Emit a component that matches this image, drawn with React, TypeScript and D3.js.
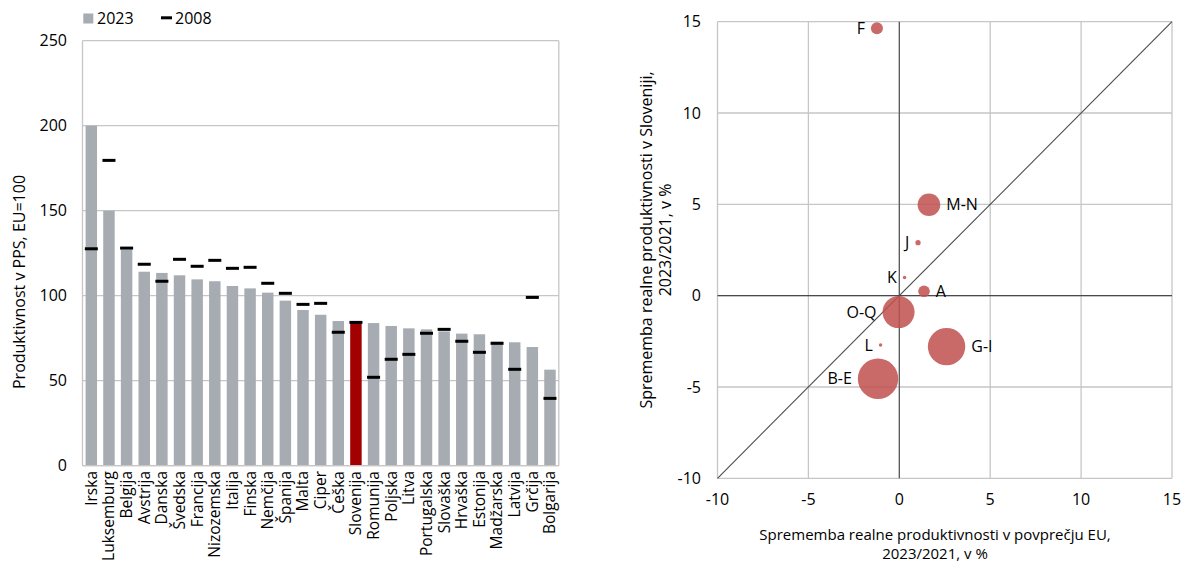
import React from "react";
import * as d3 from "d3";

// ---------- Left chart data ----------
const countries = [
  "Irska", "Luksemburg", "Belgija", "Avstrija", "Danska", "Švedska", "Francija",
  "Nizozemska", "Italija", "Finska", "Nemčija", "Španija", "Malta", "Ciper", "Češka",
  "Slovenija", "Romunija", "Poljska", "Litva", "Portugalska", "Slovaška", "Hrvaška",
  "Estonija", "Madžarska", "Latvija", "Grčija", "Bolgarija",
];
const values2023 = [
  200, 150, 127, 114.1, 113.4, 112, 109.6, 108.5, 105.7, 104.3, 101.8, 97.1, 91.6, 88.8,
  85.1, 84, 83.9, 82.2, 80.8, 80.2, 79, 77.7, 77.3, 73, 72.6, 69.8, 56.5,
];
const values2008 = [
  127.6, 179.6, 128, 118.5, 108.5, 121.4, 117.3, 120.8, 116.1, 116.7, 107.3, 101.4, 94.9,
  95.5, 78.5, 84.3, 52, 62.6, 65.5, 77.9, 80.2, 73.2, 66.7, 72, 56.7, 99, 39.6,
];
const highlight = "Slovenija";
const leftTicks = [0, 50, 100, 150, 200, 250];

// ---------- Right chart data ----------
const sectors = ["F", "M-N", "J", "K", "A", "O-Q", "L", "G-I", "B-E"];
const euChange = [-1.23, 1.63, 1.03, 0.29, 1.36, -0.04, -1.03, 2.6, -1.17];
const siChange = [14.64, 4.98, 2.9, 0.99, 0.24, -0.9, -2.7, -2.79, -4.55];
const sectorWeight = [3.6, 12.8, 0.7, 0.3, 3.4, 25.6, 0.3, 35, 40.8];
const labelSide = ["l", "r", "l", "l", "r", "l", "l", "r", "l"];
const rightTicks = [-10, -5, 0, 5, 10, 15];

const FONT = "'Open Sans', 'Noto Sans', sans-serif";
const GRID = "#C6C6C6";
const AXIS = "#4A4A4A";
const BAR = "#A6ACB1";
const RED = "#A30000";
const BUBBLE = "#C0504D";

export default function App() {
  // Left chart scales
  const x = d3.scaleBand<string>().domain(countries).range([82.5, 558.8]).paddingInner(0.35).paddingOuter(0.175);
  const y = d3.scaleLinear().domain([0, 250]).range([465.7, 40.7]);
  const markerW = 13;

  // Right chart scales
  const sx = d3.scaleLinear().domain([-10, 15]).range([717.5, 1172]);
  const sy = d3.scaleLinear().domain([-10, 15]).range([478.3, 21.7]);
  const r = d3.scaleSqrt().domain([0, d3.max(sectorWeight) as number]).range([0, 20.2]);

  const diag = d3.line<number>().x((d) => sx(d)).y((d) => sy(d));

  return (
    <div>
      <style>{`body{margin:0}`}</style>
      <svg width={1182} height={564} style={{ display: "block", fontFamily: FONT }}>
        <rect width={1182} height={564} fill="#fff" />

        {/* ===== Left chart ===== */}
        {/* legend */}
        <rect x={83.3} y={13.5} width={10} height={10} fill={BAR} />
        <text x={97} y={24} fontSize={16} fill="#000">2023</text>
        <rect x={161} y={16.3} width={11} height={3} fill="#000" />
        <text x={175} y={24} fontSize={16} fill="#000">2008</text>

        {/* gridlines */}
        {leftTicks.map((t) => (
          <line key={"lg" + t} x1={82.5} x2={558.8} y1={y(t)} y2={y(t)} stroke={GRID} strokeWidth={1.3} />
        ))}
        <line x1={82.5} x2={82.5} y1={y(250)} y2={y(0)} stroke={GRID} strokeWidth={1.3} />
        <line x1={558.8} x2={558.8} y1={y(250)} y2={y(0)} stroke={GRID} strokeWidth={1.3} />

        {/* tick labels */}
        {leftTicks.map((t) => (
          <text key={"lt" + t} x={67} y={y(t)} dy="0.35em" textAnchor="end" fontSize={16} fill="#000">
            {t}
          </text>
        ))}

        {/* bars */}
        {countries.map((c, i) => (
          <rect
            key={"b" + c}
            x={x(c)}
            y={y(values2023[i])}
            width={x.bandwidth()}
            height={y(0) - y(values2023[i])}
            fill={c === highlight ? RED : BAR}
          />
        ))}
        {/* 2008 markers */}
        {countries.map((c, i) => (
          <rect
            key={"m" + c}
            x={(x(c) as number) + x.bandwidth() / 2 - markerW / 2}
            y={y(values2008[i]) - 1.5}
            width={markerW}
            height={3}
            fill="#000"
          />
        ))}
        <line x1={82.5} x2={558.8} y1={y(0)} y2={y(0)} stroke={GRID} strokeWidth={1.3} />

        {/* category labels */}
        {countries.map((c) => {
          const cx = (x(c) as number) + x.bandwidth() / 2;
          return (
            <text
              key={"cl" + c}
              transform={`translate(${cx},471) rotate(-90)`}
              dy="0.35em"
              textAnchor="end"
              fontSize={15.5}
              fill="#000"
            >
              {c}
            </text>
          );
        })}

        {/* y title */}
        <text transform="translate(19,282) rotate(-90)" dy="0.35em" textAnchor="middle" fontSize={16} fill="#000">
          Produktivnost v PPS, EU=100
        </text>

        {/* ===== Right chart ===== */}
        {rightTicks.map((t) => (
          <g key={"rg" + t}>
            <line x1={sx(t)} x2={sx(t)} y1={sy(15)} y2={sy(-10)} stroke={GRID} strokeWidth={1.3} />
            <line x1={sx(-10)} x2={sx(15)} y1={sy(t)} y2={sy(t)} stroke={GRID} strokeWidth={1.3} />
          </g>
        ))}
        <line x1={sx(0)} x2={sx(0)} y1={sy(15)} y2={sy(-10)} stroke={AXIS} strokeWidth={1.1} />
        <line x1={sx(-10)} x2={sx(15)} y1={sy(0)} y2={sy(0)} stroke={AXIS} strokeWidth={1.1} />
        <path d={diag([-10, 15]) as string} stroke={AXIS} strokeWidth={1.1} fill="none" />

        {/* bubbles */}
        {sectors.map((s, i) => (
          <circle
            key={"c" + s}
            cx={sx(euChange[i])}
            cy={sy(siChange[i])}
            r={Math.max(r(sectorWeight[i]), 1.7)}
            fill={BUBBLE}
            fillOpacity={0.85}
          />
        ))}
        {sectors.map((s, i) => {
          const rr = Math.max(r(sectorWeight[i]), 1.7);
          const left = labelSide[i] === "l";
          return (
            <text
              key={"sl" + s}
              x={sx(euChange[i]) + (left ? -(rr + 6) : rr + 6)}
              y={sy(siChange[i])}
              dy="0.35em"
              textAnchor={left ? "end" : "start"}
              fontSize={16}
              fill="#000"
            >
              {s}
            </text>
          );
        })}

        {/* tick labels */}
        {rightTicks.map((t) => (
          <text key={"ry" + t} x={701} y={sy(t)} dy="0.35em" textAnchor="end" fontSize={16} fill="#000">
            {t}
          </text>
        ))}
        {rightTicks.map((t) => (
          <text key={"rx" + t} x={sx(t)} y={505} textAnchor="middle" fontSize={16} fill="#000">
            {t}
          </text>
        ))}

        {/* axis titles */}
        <text x={935} y={540} textAnchor="middle" fontSize={15} fill="#000">
          Sprememba realne produktivnosti v povprečju EU,
        </text>
        <text x={935} y={559} textAnchor="middle" fontSize={15} fill="#000">
          2023/2021, v %
        </text>
        <text transform="translate(646,240) rotate(-90)" dy="0.35em" textAnchor="middle" fontSize={16} fill="#000">
          Sprememba realne produktivnosti v Sloveniji,
        </text>
        <text transform="translate(665,240) rotate(-90)" dy="0.35em" textAnchor="middle" fontSize={16} fill="#000">
          2023/2021, v %
        </text>
      </svg>
    </div>
  );
}
